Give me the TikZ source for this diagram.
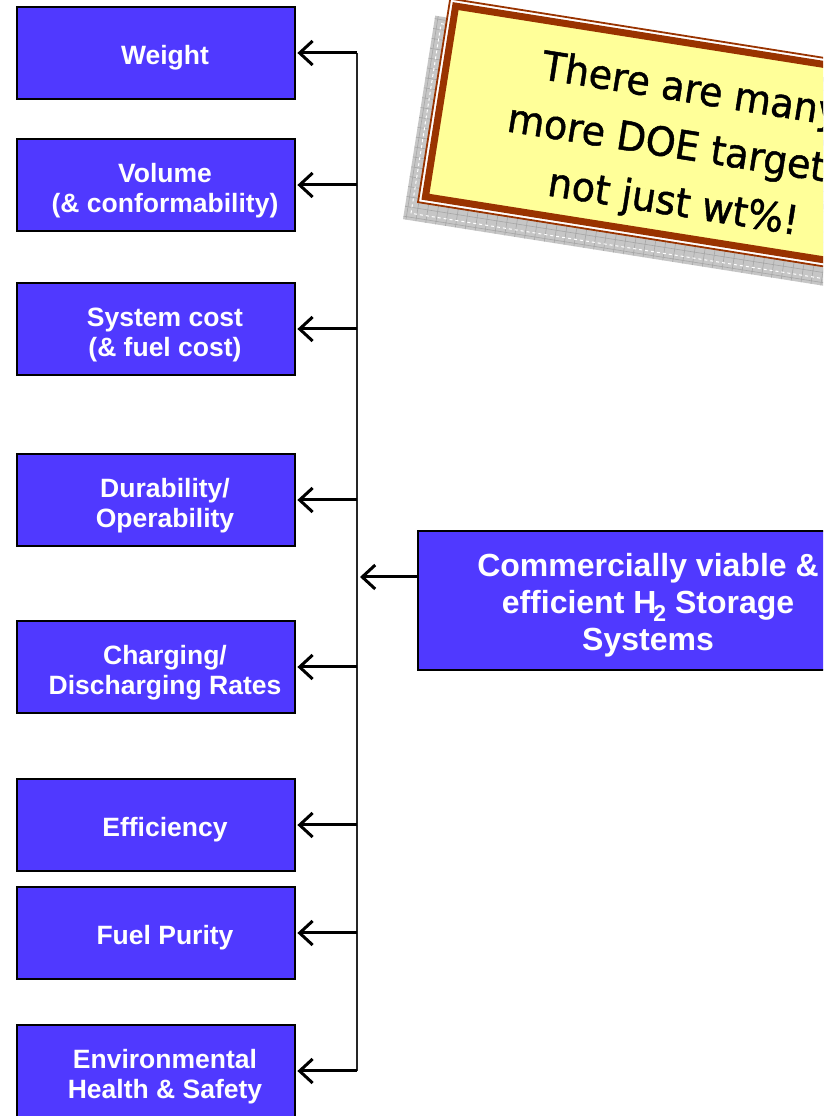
\documentclass[tikz,border=0pt]{standalone}
\usepackage{fontspec}
\setmainfont{Liberation Sans}
\newfontfamily\callfont[FakeBold=1.2,FakeStretch=0.95]{DejaVu Sans}
\usetikzlibrary{arrows.meta}
\definecolor{boxblue}{RGB}{80,57,255}
\definecolor{callbrown}{RGB}{153,51,0}
\definecolor{callyellow}{RGB}{255,255,153}
\begin{document}
\begin{tikzpicture}[x=1pt,y=1pt,
  lbox/.style={draw=black, line width=1.8pt, fill=boxblue, minimum width=278pt, minimum height=92pt, inner sep=0pt},
  ltext/.style={text=white, font=\bfseries\fontsize{26.5}{30}\selectfont, align=center, inner sep=0pt},
  arr/.style={line width=3pt, -{Straight Barb[length=13pt,width=24pt,line width=3pt]}},
  bus/.style={line width=2.4pt, black!85}]
\useasboundingbox (0,0) rectangle (823,1116);
\clip (0,0) rectangle (823,1116);
\fill[white] (0,0) rectangle (823,1116);

% callout shadow
\begin{scope}[shift={(669,959)}, rotate=-9]
  \begin{scope}
    \clip (-253,-103) rectangle (253,103);
    \fill[gray!45] (-253,-103) rectangle (253,103);
    \draw[gray!70, line width=0.6pt, step=10pt] (-260,-110) grid (260,110);
    \draw[white, dashed, line width=1pt] (-246,-96) rectangle (246,96);
  \end{scope}
\end{scope}

% callout
\node[rotate=-9, draw=callbrown, line width=1.8pt, fill=white, minimum width=506pt, minimum height=206pt] (calloutframe) at (684,976) {};
\node[rotate=-9, draw=callbrown, line width=7pt, fill=callyellow, minimum width=493pt, minimum height=193pt] (callout) at (684,976) {};
\node[rotate=-9, font=\callfont\fontsize{40}{57}\selectfont, align=center, inner sep=0pt] (calloutT) at (682,968) {There are many\\more DOE targets,\\not just wt\%!};

% left boxes
\node[lbox] (weight) at (156,1063) {};
\node[ltext] (weightT) at ([xshift=9pt,yshift=-5pt]weight.center) {Weight};
\node[lbox] (volume) at (156,931) {};
\node[ltext] (volumeT) at ([xshift=9pt,yshift=-6pt]volume.center) {Volume\\(\& conformability)};
\node[lbox] (cost) at (156,787) {};
\node[ltext] (costT) at ([xshift=9pt,yshift=-6pt]cost.center) {System cost\\(\& fuel cost)};
\node[lbox] (dur) at (156,616) {};
\node[ltext] (durT) at ([xshift=9pt,yshift=-6pt]dur.center) {Durability/\\Operability};
\node[lbox] (charge) at (156,449) {};
\node[ltext] (chargeT) at ([xshift=9pt,yshift=-6pt]charge.center) {Charging/\\Discharging Rates};
\node[lbox] (eff) at (156,291) {};
\node[ltext] (effT) at ([xshift=9pt,yshift=-5pt]eff.center) {Efficiency};
\node[lbox] (purity) at (156,183) {};
\node[ltext] (purityT) at ([xshift=9pt,yshift=-5pt]purity.center) {Fuel Purity};
\node[lbox] (env) at (156,45) {};
\node[ltext] (envT) at ([xshift=9pt,yshift=-6pt]env.center) {Environmental\\Health \& Safety};

% goal box
\node[lbox, minimum width=462pt, minimum height=139pt] (goal) at (649,515.5) {};
\node[text=white, font=\bfseries\fontsize{32}{37}\selectfont, align=center, inner sep=0pt] (goalT) at ([xshift=-1pt,yshift=-5pt]goal.center)
  {Commercially viable \&\\efficient H\kern-3pt\raisebox{-8pt}{\fontsize{23}{23}\selectfont 2}\kern0pt{} Storage\\Systems};

% connectors
\coordinate (busx) at (357,0);
\draw[bus] (weight.east -| busx) -- (env.east -| busx);
\foreach \n in {weight,volume,cost,dur,charge,eff,purity,env}
  \draw[arr] (\n.east -| busx) -- ([xshift=1.5pt]\n.east);
\coordinate (goalin) at ([yshift=23.5pt]goal.west);
\draw[arr] (goalin) -- ([xshift=3pt]goalin -| busx);
\end{tikzpicture}
\end{document}
